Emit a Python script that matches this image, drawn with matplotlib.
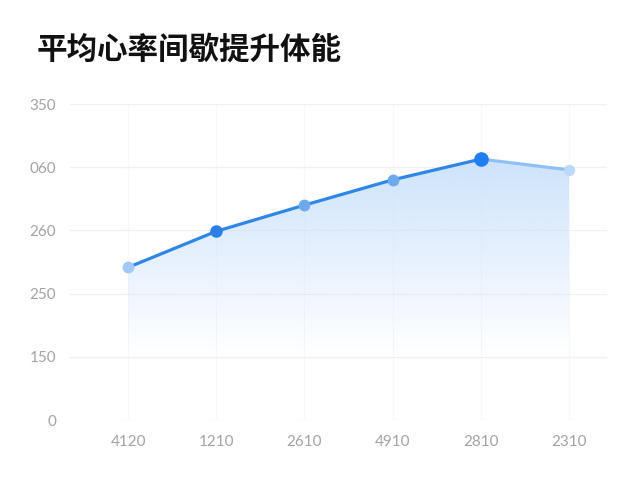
import matplotlib
matplotlib.use("Agg")
import matplotlib.pyplot as plt
import numpy as np
from matplotlib.patches import Polygon

plt.rcParams['font.family'] = ['Noto Sans CJK SC', 'DejaVu Sans']

title = "平均心率间歇提升体能"
x_labels = ["4120", "1210", "2610", "4910", "2810", "2310"]
values = [169, 209, 238, 266, 289, 277]
y_ticks = [0, 70, 140, 210, 280, 350]
y_labels = ["0", "150", "250", "260", "060", "350"]
marker_colors = ["#a3c9f5", "#2b7fe5", "#6ea9ee", "#6ea9ee", "#1f7ff0", "#bad8f8"]
marker_sizes = [7.5, 8, 7.5, 7.5, 9.5, 7]

fig = plt.figure(figsize=(6.4, 4.8), dpi=100)
ax = fig.add_axes([70/640, 1-420/480, (607-70)/640, (420-104)/480])
xs = np.arange(len(values))
ax.set_xlim(-0.658, 5.43)
ax.set_ylim(0, 350)

# gradient fill under line
verts = [(xs[0], 0)] + list(zip(xs, values)) + [(xs[-1], 0)]
poly = Polygon(verts, closed=True, facecolor='none', edgecolor='none')
ax.add_patch(poly)
ytop = max(values)
grad = np.linspace(0, 1, 256).reshape(-1, 1)
img = np.zeros((256, 1, 4))
img[..., 0] = 0.80
img[..., 1] = 0.89
img[..., 2] = 0.985
a = np.clip((grad - 0.25) / 0.75, 0, 1) ** 1.0
img[..., 3] = a[:, :] * 0.97
im = ax.imshow(img, extent=[xs[0], xs[-1], 0, ytop], origin='lower', aspect='auto', zorder=1, interpolation='bilinear')
im.set_clip_path(poly)

ax.plot(xs[:5], values[:5], color="#2f86e8", lw=2.3, zorder=3, solid_capstyle='round')
ax.plot(xs[4:], values[4:], color="#8ec0f5", lw=2.3, zorder=3, solid_capstyle='round')
for x, v, c, s in zip(xs, values, marker_colors, marker_sizes):
    ax.plot([x], [v], 'o', color=c, markersize=s, zorder=4, clip_on=False)

ax.set_yticks(y_ticks)
ax.set_yticklabels(y_labels, family='Lato')
ax.set_xticks(xs)
ax.set_xticklabels(x_labels, family='Lato')
ax.grid(axis='y', color="#f0f0f0", lw=1)
ax.grid(axis='x', color="#f8f8f8", lw=0.8)
ax.set_axisbelow(True)
for sp in ax.spines.values():
    sp.set_visible(False)
ax.tick_params(length=0, colors="#a3a3a3", labelsize=11)
ax.tick_params(axis='y', pad=10)
ax.tick_params(axis='x', pad=11)

fig.text(37/640, 1-50/480, title, fontsize=22, fontweight='bold', color="#111111", va='center', ha='left')

fig.savefig("out.png", dpi=100, facecolor='white')
